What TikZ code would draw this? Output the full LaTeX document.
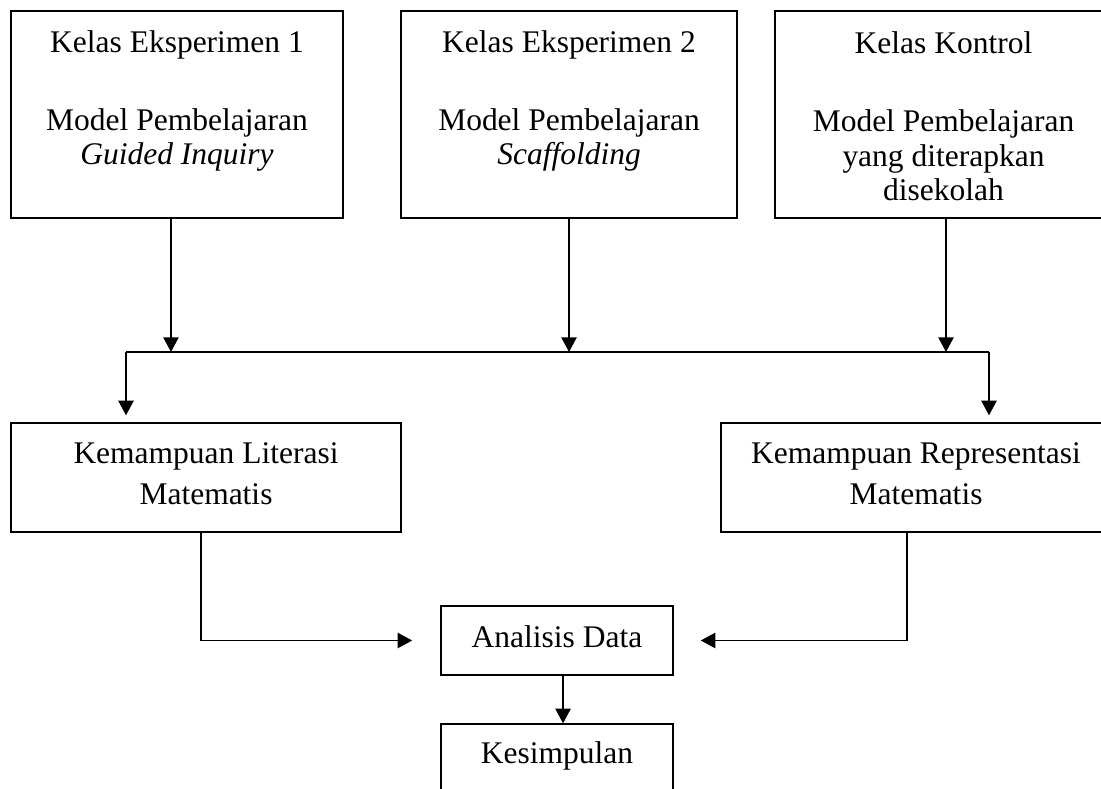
\documentclass[tikz,border=0pt]{standalone}
\usepackage{fontspec}
\setmainfont{Liberation Serif}
\usetikzlibrary{arrows.meta,positioning,fit,calc}

\begin{document}
\begin{tikzpicture}[
    x=0.381pt, y=-0.381pt,
    box/.style={draw, line width=0.85pt, inner sep=0pt},
    sbox/.style={draw, line width=0.5pt, inner sep=0pt},
    txt/.style={anchor=base, align=center, inner sep=0pt,
                font=\fontsize{12}{13.3}\selectfont},
    ktxt/.style={txt, font=\fontsize{12}{16}\selectfont},
    line/.style={line width=0.75pt},
    arrow/.style={-{Triangle[length=5.6pt, width=5.8pt]}, line width=0.75pt},
]
    \useasboundingbox (0,0) rectangle (1101,789);
    \clip (0,0) rectangle (1101,789);

    % kelas
    \node[box, fit={(11,11) (343,218)}]   (k1) {};
    \node[box, fit={(401,11) (737,218)}]  (k2) {};
    \node[box, fit={(775,11) (1112,218)}] (k3) {};
    \node[txt] (t1) at (177,165)   {Kelas Eksperimen 1\\[16.4pt]Model Pembelajaran\\\textit{Guided Inquiry}};
    \node[txt] (t2) at (569,165)   {Kelas Eksperimen 2\\[16.4pt]Model Pembelajaran\\\textit{Scaffolding}};
    \node[txt] (t3) at (943.5,201) {Kelas Kontrol\\[16.4pt]Model Pembelajaran\\yang diterapkan\\disekolah};

    % kemampuan
    \node[box, fit={(11,423) (401,532)}]   (k4) {};
    \node[box, fit={(721,423) (1111,532)}] (k5) {};
    \node[ktxt] (t4) at (206,505) {Kemampuan Literasi\\Matematis};
    \node[ktxt] (t5) at (916,505) {Kemampuan Representasi\\Matematis};

    % analisis
    \node[sbox, fit={(441,606) (673,675)}] (ad) {};
    \node[sbox, fit={(441,724) (673,793)}] (ks) {};
    \node[txt] (t6) at (557,647) {Analisis Data};
    \node[txt] (t7) at (557,763) {Kesimpulan};

    \coordinate (busL) at (126,352);
    \coordinate (busR) at (989,352);

    \draw[arrow] ([xshift=-2.3pt]k1.south) -- ([xshift=-2.3pt]k1.south |- busL);
    \draw[arrow] (k2.south) -- (k2.south |- busL);
    \draw[arrow] ([xshift=0.95pt]k3.south) -- ([xshift=0.95pt]k3.south |- busL);
    \draw[line] (busL) -- (busR);
    \draw[arrow, shorten >=2.5pt] (busL) -- (busL |- k4.north);
    \draw[arrow, shorten >=2.5pt] (busR) -- (busR |- k5.north);
    \draw[arrow, shorten >=10.7pt] ([xshift=-1.9pt]k4.south) |- (ad.west);
    \draw[arrow, shorten >=10.3pt] ([xshift=-3.4pt]k5.south) |- (ad.east);
    \draw[arrow] ([xshift=2.3pt]ad.south) -- ([xshift=2.3pt]ks.north);
\end{tikzpicture}
\end{document}
